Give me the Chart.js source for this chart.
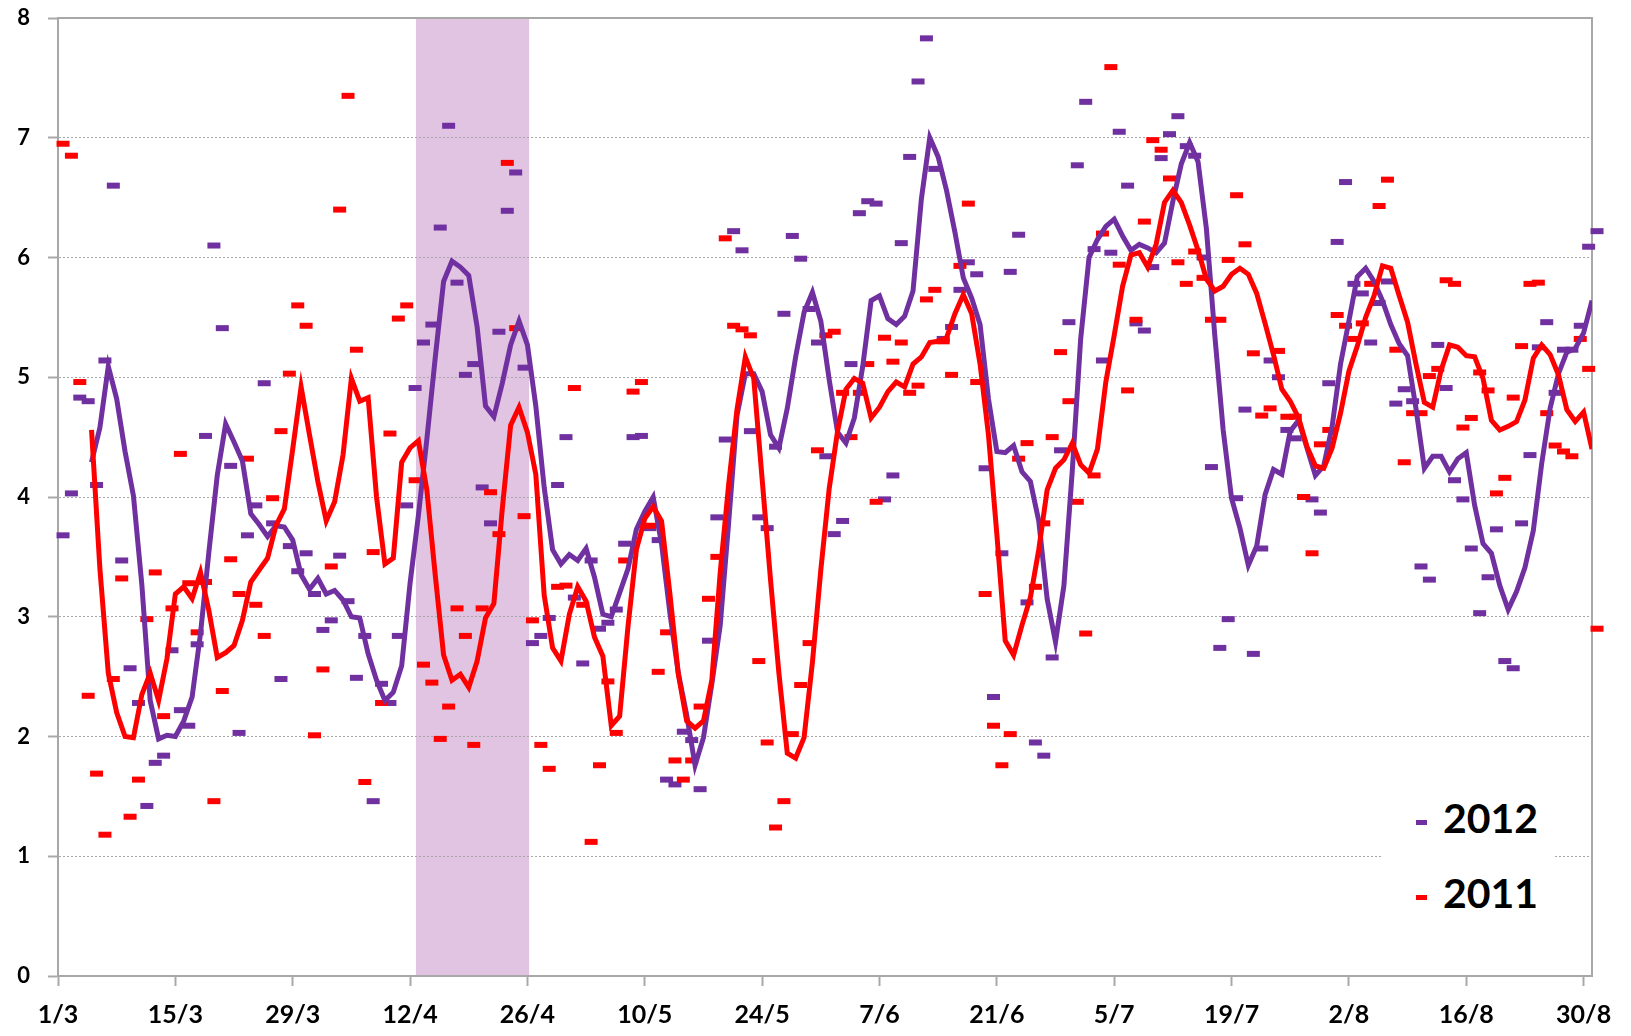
<!DOCTYPE html>
<html>
<head>
<meta charset="utf-8">
<script src="https://cdn.jsdelivr.net/npm/chart.js@4.4.1/dist/chart.umd.min.js"></script>
<style>
  html, body { margin: 0; padding: 0; background: #fff; }
  #wrap { position: relative; width: 1631px; height: 1036px; }
  #legend {
    position: absolute; left: 1383px; top: 778px; width: 170px; height: 156px;
    background: #fff; font-family: Lato, sans-serif; font-weight: 700; font-size: 41px; color: #000;
  }
  #legend .item { position: absolute; left: 33px; height: 48px; line-height: 48px; white-space: nowrap; }
  #legend .item i { display: inline-block; width: 11px; height: 5px; vertical-align: middle; margin-right: 16px; }
</style>
</head>
<body>
<div id="wrap">
  <canvas id="chart" width="1631" height="1036"></canvas>
  <div id="legend">
    <div class="item" style="top:16px"><i style="background:#7030A0"></i>2012</div>
    <div class="item" style="top:91px"><i style="background:#FF0000"></i>2011</div>
  </div>
</div>
<script>
// x axis: day index, 0 = 1/3, 183 = 31/8
const tickDays = [0, 14, 28, 42, 56, 70, 84, 98, 112, 126, 140, 154, 168, 182];
const tickLabels = ['1/3', '15/3', '29/3', '12/4', '26/4', '10/5', '24/5', '7/6', '21/6', '5/7', '19/7', '2/8', '16/8', '30/8'];

// highlighted period (days)
const shadeFrom = 42.7;
const shadeTo = 56.2;

// daily values
const dash2012 = [
  3.68, 4.03, 4.83, 4.80, 4.10, 5.14, 6.60, 3.47, 2.57, 2.28,
  1.42, 1.78, 1.84, 2.72, 2.22, 2.09, 2.77, 4.51, 6.10, 5.41,
  4.26, 2.03, 3.68, 3.93, 4.95, 3.78, 2.48, 3.59, 3.38, 3.53,
  3.19, 2.89, 2.97, 3.51, 3.13, 2.49, 2.84, 1.46, 2.44, 2.28,
  2.84, 3.93, 4.91, 5.29, 5.44, 6.25, 7.10, 5.79, 5.02, 5.11,
  4.08, 3.78, 5.38, 6.39, 6.71, 5.08, 2.78, 2.84, 2.99, 4.10,
  4.50, 3.16, 2.61, 3.47, 2.90, 2.95, 3.06, 3.61, 4.50, 4.51,
  3.74, 3.64, 1.64, 1.60, 2.04, 1.97, 1.56, 2.80, 3.83, 4.48,
  6.22, 6.06, 4.55, 3.83, 3.74, 4.42, 5.53, 6.18, 5.99, 5.57,
  5.29, 4.34, 3.69, 3.80, 5.11, 6.37, 6.47, 6.45, 3.98, 4.18,
  6.12, 6.84, 7.47, 7.83, 6.74, 5.32, 5.42, 5.73, 5.96, 5.86,
  4.24, 2.33, 3.53, 5.88, 6.19, 3.12, 1.95, 1.84, 2.66, 4.39,
  5.46, 6.77, 7.30, 6.07, 5.14, 6.04, 7.05, 6.60, 5.45, 5.39,
  5.92, 6.83, 7.03, 7.18, 6.93, 6.85, 6.00, 4.25, 2.74, 2.98,
  3.99, 4.73, 2.69, 3.57, 5.14, 5.00, 4.56, 4.49, 4.00, 3.98,
  3.87, 4.95, 6.13, 6.63, 5.78, 5.70, 5.29, 5.62, 5.80, 4.78,
  4.90, 4.80, 3.42, 3.31, 5.27, 4.91, 4.14, 3.98, 3.57, 3.03,
  3.33, 3.73, 2.63, 2.57, 3.78, 4.35, 5.25, 5.46, 4.87, 5.23,
  5.23, 5.43, 6.09, 6.22
];

const dash2011 = [
  6.95, 6.85, 4.96, 2.34, 1.69, 1.18, 2.48, 3.32, 1.33, 1.64,
  2.98, 3.37, 2.17, 3.07, 4.36, 3.28, 2.87, 3.29, 1.46, 2.38,
  3.48, 3.19, 4.32, 3.10, 2.84, 3.99, 4.55, 5.03, 5.60, 5.43,
  2.01, 2.56, 3.42, 6.40, 7.35, 5.23, 1.62, 3.54, 2.28, 4.53,
  5.49, 5.60, 4.14, 2.60, 2.45, 1.98, 2.25, 3.07, 2.84, 1.93,
  3.07, 4.04, 3.69, 6.79, 5.41, 3.84, 2.97, 1.93, 1.73, 3.25,
  3.26, 4.91, 3.10, 1.12, 1.76, 2.46, 2.03, 3.47, 4.88, 4.96,
  3.76, 2.54, 2.87, 1.80, 1.64, 1.80, 2.25, 3.15, 3.50, 6.16,
  5.43, 5.40, 5.35, 2.63, 1.95, 1.24, 1.46, 2.02, 2.43, 2.78,
  4.39, 5.35, 5.38, 4.87, 4.50, 4.87, 5.11, 3.96, 5.33, 5.13,
  5.29, 4.87, 4.93, 5.65, 5.73, 5.30, 5.02, 5.93, 6.45, 4.96,
  3.19, 2.09, 1.76, 2.02, 4.32, 4.45, 3.25, 3.78, 4.50, 5.21,
  4.80, 3.96, 2.86, 4.18, 6.20, 7.59, 5.94, 4.89, 5.48, 6.30,
  6.98, 6.90, 6.66, 5.96, 5.78, 6.05, 5.83, 5.48, 5.48, 5.98,
  6.52, 6.11, 5.20, 4.68, 4.74, 5.22, 4.67, 4.67, 4.00, 3.53,
  4.44, 4.56, 5.52, 5.43, 5.32, 5.45, 5.78, 6.43, 6.65, 5.23,
  4.29, 4.70, 4.70, 5.01, 5.07, 5.81, 5.78, 4.58, 4.66, 5.04,
  4.89, 4.03, 4.16, 4.83, 5.26, 5.78, 5.79, 4.70, 4.43, 4.38,
  4.34, 5.32, 5.07, 2.90
];

// smoothed (5-day) lines
const avg2012 = [
  null, null, null, null,
  4.29, 4.58, 5.09, 4.82, 4.38, 4.01, 3.27, 2.30, 1.98, 2.01,
  2.00, 2.13, 2.33, 2.86, 3.54, 4.18, 4.61, 4.46, 4.30, 3.86,
  3.77, 3.67, 3.76, 3.75, 3.64, 3.35, 3.23, 3.32, 3.19, 3.22,
  3.14, 3.00, 2.99, 2.69, 2.47, 2.30, 2.37, 2.59, 3.28, 3.85,
  4.48, 5.16, 5.80, 5.97, 5.92, 5.85, 5.42, 4.76, 4.67, 4.95,
  5.27, 5.47, 5.27, 4.76, 4.08, 3.56, 3.44, 3.52, 3.47, 3.57,
  3.33, 3.02, 3.00, 3.20, 3.40, 3.73, 3.88, 4.00, 3.61, 3.03,
  2.53, 2.18, 1.76, 1.99, 2.44, 2.93, 3.78, 4.68, 5.03, 5.03,
  4.88, 4.52, 4.41, 4.74, 5.17, 5.54, 5.71, 5.47, 4.98, 4.54,
  4.45, 4.66, 5.09, 5.64, 5.68, 5.49, 5.44, 5.51, 5.72, 6.49,
  7.00, 6.84, 6.56, 6.21, 5.83, 5.66, 5.44, 4.82, 4.38, 4.37,
  4.43, 4.21, 4.13, 3.80, 3.15, 2.79, 3.26, 4.22, 5.32, 6.00,
  6.15, 6.26, 6.32, 6.18, 6.06, 6.11, 6.08, 6.04, 6.12, 6.47,
  6.78, 6.96, 6.80, 6.24, 5.35, 4.56, 3.99, 3.74, 3.43, 3.59,
  4.02, 4.23, 4.19, 4.55, 4.64, 4.41, 4.18, 4.26, 4.59, 5.11,
  5.47, 5.84, 5.91, 5.80, 5.64, 5.44, 5.28, 5.18, 4.74, 4.24,
  4.34, 4.34, 4.21, 4.32, 4.37, 3.93, 3.61, 3.53, 3.26, 3.06,
  3.21, 3.41, 3.72, 4.28, 4.74, 5.03, 5.21, 5.24, 5.37, 5.64
];

const avg2011 = [
  null, null, null, null,
  4.56, 3.40, 2.53, 2.20, 2.00, 1.99, 2.35, 2.53, 2.30, 2.65,
  3.19, 3.25, 3.15, 3.37, 3.05, 2.66, 2.70, 2.76, 2.97, 3.29,
  3.39, 3.49, 3.76, 3.90, 4.40, 4.92, 4.52, 4.13, 3.80, 3.96,
  4.35, 4.99, 4.80, 4.83, 4.00, 3.44, 3.49, 4.29, 4.41, 4.47,
  4.06, 3.35, 2.68, 2.47, 2.52, 2.41, 2.63, 2.99, 3.11, 3.90,
  4.60, 4.75, 4.54, 4.19, 3.18, 2.74, 2.63, 3.02, 3.25, 3.13,
  2.83, 2.67, 2.09, 2.17, 2.92, 3.56, 3.82, 3.92, 3.80, 3.19,
  2.52, 2.13, 2.07, 2.13, 2.47, 3.37, 4.10, 4.73, 5.17, 4.99,
  4.15, 3.31, 2.53, 1.86, 1.82, 1.99, 2.62, 3.39, 4.07, 4.55,
  4.90, 4.99, 4.95, 4.66, 4.75, 4.88, 4.96, 4.92, 5.11, 5.17,
  5.29, 5.30, 5.33, 5.53, 5.69, 5.53, 5.11, 4.52, 3.69, 2.80,
  2.68, 2.93, 3.16, 3.56, 4.06, 4.24, 4.31, 4.45, 4.27, 4.20,
  4.40, 4.96, 5.35, 5.76, 6.02, 6.04, 5.92, 6.11, 6.46, 6.56,
  6.46, 6.27, 6.06, 5.82, 5.72, 5.76, 5.86, 5.91, 5.86, 5.70,
  5.45, 5.19, 4.90, 4.80, 4.66, 4.42, 4.26, 4.24, 4.41, 4.70,
  5.05, 5.26, 5.50, 5.68, 5.93, 5.91, 5.68, 5.46, 5.11, 4.79,
  4.75, 5.06, 5.27, 5.25, 5.18, 5.17, 4.99, 4.64, 4.56, 4.59,
  4.63, 4.81, 5.16, 5.27, 5.19, 5.02, 4.73, 4.63, 4.71, 4.40
];

const PURPLE = '#7030A0';
const RED = '#FF0000';
const AXIS_GREY = '#A8A8A8';
const DASH_SHIFT = 0.6; // daily markers sit a little right of the day line

const toPoints = (arr, shift) => arr.map((v, i) => ({ x: i + shift, y: v }));

const shadePlugin = {
  id: 'shade',
  beforeDraw(chart) {
    const { ctx, chartArea, scales } = chart;
    const x1 = scales.x.getPixelForValue(shadeFrom);
    const x2 = scales.x.getPixelForValue(shadeTo);
    ctx.save();
    ctx.fillStyle = '#E0C4E1';
    ctx.fillRect(x1, chartArea.top, x2 - x1, chartArea.bottom - chartArea.top);
    ctx.restore();
  }
};

const framePlugin = {
  id: 'frame',
  beforeDatasetsDraw(chart) {
    const { ctx, chartArea } = chart;
    ctx.save();
    ctx.strokeStyle = AXIS_GREY;
    ctx.lineWidth = 2;
    ctx.beginPath();
    ctx.moveTo(chartArea.left, chartArea.top);
    ctx.lineTo(chartArea.right, chartArea.top);
    ctx.lineTo(chartArea.right, chartArea.bottom);
    ctx.stroke();
    ctx.restore();
  }
};

Chart.defaults.font.family = 'Lato, sans-serif';
Chart.defaults.color = '#000';

new Chart(document.getElementById('chart'), {
  type: 'line',
  data: {
    datasets: [
      {
        label: '2012',
        data: toPoints(dash2012, DASH_SHIFT),
        showLine: false,
        pointStyle: 'line',
        pointRadius: 6.5,
        pointBorderWidth: 6,
        pointBorderColor: PURPLE,
        pointBackgroundColor: PURPLE,
        clip: false,
        order: 4
      },
      {
        label: '2011',
        data: toPoints(dash2011, DASH_SHIFT),
        showLine: false,
        pointStyle: 'line',
        pointRadius: 6.5,
        pointBorderWidth: 6,
        pointBorderColor: RED,
        pointBackgroundColor: RED,
        clip: false,
        order: 3
      },
      {
        label: '2012 avg',
        data: toPoints(avg2012, 0),
        borderColor: PURPLE,
        borderWidth: 5,
        pointRadius: 0,
        tension: 0,
        order: 2
      },
      {
        label: '2011 avg',
        data: toPoints(avg2011, 0),
        borderColor: RED,
        borderWidth: 5,
        pointRadius: 0,
        tension: 0,
        order: 1
      }
    ]
  },
  options: {
    responsive: false,
    animation: false,
    layout: { padding: { top: 18, right: 39, left: 0, bottom: 0 } },
    plugins: {
      legend: { display: false },
      tooltip: { enabled: false }
    },
    scales: {
      x: {
        type: 'linear',
        min: 0,
        max: 183,
        afterBuildTicks: (scale) => { scale.ticks = tickDays.map(v => ({ value: v })); },
        afterFit: (scale) => {
          scale.height = 60;
          scale.paddingLeft = 0;
          scale.paddingRight = 0;
        },
        ticks: {
          autoSkip: false,
          maxRotation: 0,
          padding: 14,
          font: { size: 25, weight: 'bold' },
          callback: (value) => tickLabels[tickDays.indexOf(value)]
        },
        grid: {
          drawOnChartArea: false,
          drawTicks: true,
          tickLength: 10,
          tickWidth: 2,
          tickColor: AXIS_GREY
        },
        border: { display: true, color: AXIS_GREY, width: 2 }
      },
      y: {
        min: 0,
        max: 8,
        afterFit: (scale) => {
          scale.width = 58;
          scale.paddingTop = 0;
          scale.paddingBottom = 0;
        },
        ticks: {
          stepSize: 1,
          padding: 18,
          font: { size: 22, weight: 'bold' }
        },
        grid: {
          color: (c) => (c.tick && (c.tick.value === 0 || c.tick.value === 8)) ? 'rgba(0,0,0,0)' : '#A8A8A8',
          lineWidth: 1,
          drawTicks: true,
          tickLength: 10,
          tickWidth: 2,
          tickColor: AXIS_GREY
        },
        border: { display: true, color: AXIS_GREY, width: 2, dash: [2, 2] }
      }
    }
  },
  plugins: [shadePlugin, framePlugin]
});
</script>
</body>
</html>
